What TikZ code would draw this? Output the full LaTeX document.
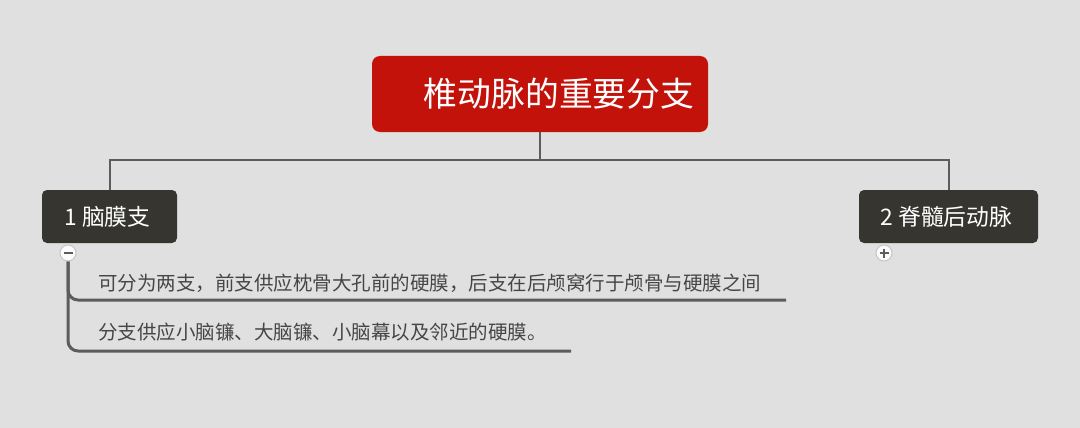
\documentclass[tikz,border=0pt]{standalone}
\usepackage{fontspec}
\setmainfont{Noto Sans CJK SC}
\usetikzlibrary{positioning}
\definecolor{bggray}{RGB}{224,224,224}
\definecolor{rootred}{RGB}{194,18,10}
\definecolor{topicdark}{RGB}{54,53,48}
\definecolor{linegray}{RGB}{92,92,92}
\definecolor{textgray}{RGB}{70,70,70}
\begin{document}
\begin{tikzpicture}[x=1pt,y=-1pt,
  root/.style = {fill=rootred, rounded corners=8pt, text=white, inner sep=0pt,
    minimum width=336pt, minimum height=76pt, font=\fontsize{33.8}{36}\selectfont},
  topic/.style = {fill=topicdark, rounded corners=5pt, text=white, inner sep=0pt,
    minimum height=53pt, font=\fontsize{22.8}{26}\selectfont},
  fold/.style = {circle, draw=gray!45, fill=white!97!gray, line width=1pt,
    minimum size=16pt, inner sep=0pt},
  subtext/.style = {anchor=west, text=textgray, inner sep=0pt,
    font=\fontsize{19.5}{23}\selectfont},
  conn/.style = {draw=linegray, line width=2pt},
  sub/.style = {draw=linegray, line width=3pt, rounded corners=10pt}]
  \fill[bggray] (0,0) rectangle (1080,428);
  \useasboundingbox (0,0) rectangle (1080,428);
  % main topic and branches
  \node[root] (root) at (540,94) {\hspace*{38pt}椎动脉的重要分支};
  \node[topic, minimum width=135pt] (c1) at (109.5,216.5) {1 脑膜支\hspace*{4pt}};
  \node[topic, minimum width=179pt] (c2) at (948.5,216.5) {2 脊髓后动脉\hspace*{4pt}};
  \draw[conn] (root.south) -- ++(0,28) -| (c1.north);
  \draw[conn] (root.south) ++(0,28) -| (c2.north);
  % fold markers
  \node[fold] (m1) at (68,253) {};
  \node[fold] (m2) at (884,253) {};
  \draw[linegray, line width=2.4pt] (m1.center) +(-4.5,0) -- +(4.5,0);
  \draw[linegray, line width=2.4pt] (m2.center) +(-4.5,0) -- +(4.5,0)
    (m2.center) +(0,-4.5) -- +(0,4.5);
  % sub topics
  \node[subtext] (t1) at (98,283) {可分为两支，前支供应枕骨大孔前的硬膜，后支在后颅窝行于颅骨与硬膜之间};
  \node[subtext] (t2) at (98,332) {分支供应小脑镰、大脑镰、小脑幕以及邻近的硬膜。};
  \coordinate (e1) at (786,300);
  \coordinate (e2) at (571,351);
  \draw[sub] (m1.south) |- (e1);
  \draw[sub] (m1.south) |- (e2);
\end{tikzpicture}
\end{document}
